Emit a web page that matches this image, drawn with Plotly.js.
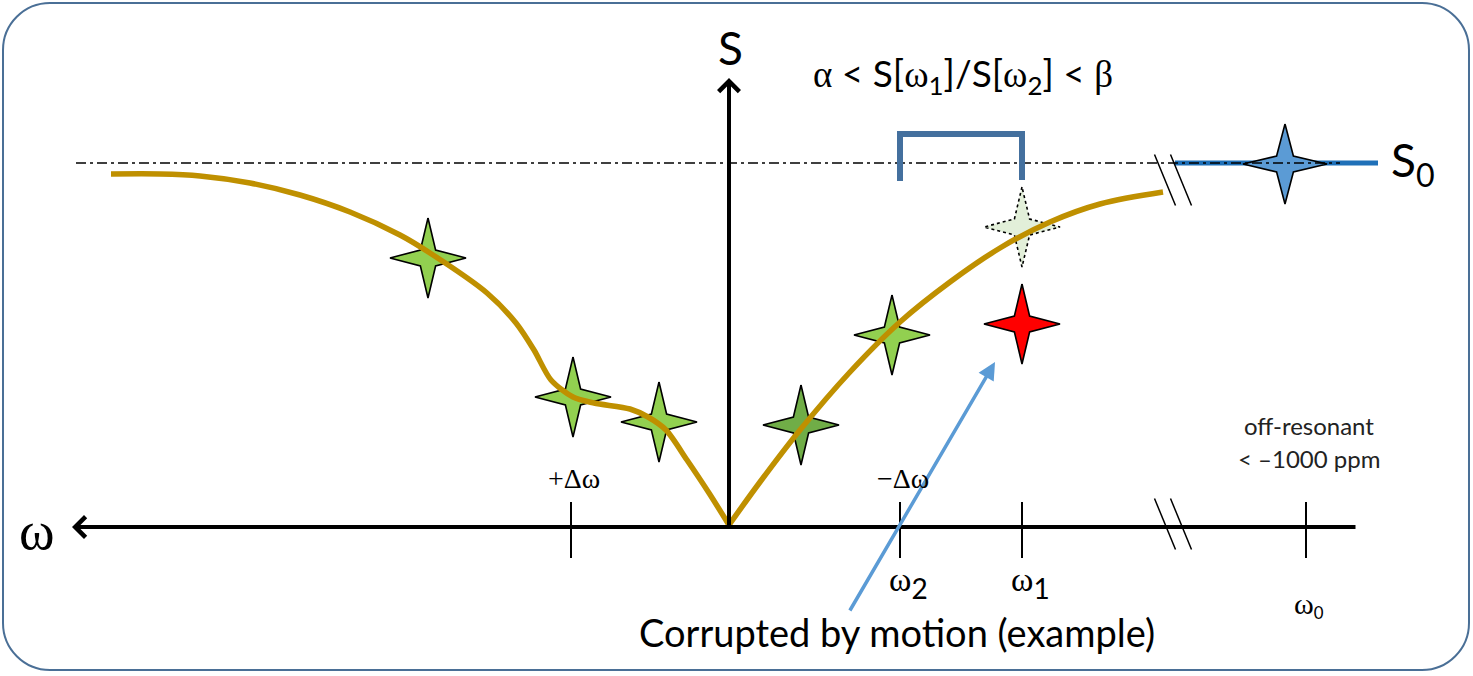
<!DOCTYPE html>
<html>
<head>
<meta charset="utf-8">
<script src="https://cdn.plot.ly/plotly-3.0.1.min.js"></script>
<style>
  html, body { margin: 0; padding: 0; background: #fff; }
  #chart { width: 1473px; height: 676px; }
</style>
</head>
<body>
<div id="chart"></div>
<script>
// Z-spectrum sketch: offset from resonance (positive = left) vs. signal S
let leftOmega  = [618, 569, 529, 479, 429, 379, 329, 299, 242, 213, 195, 178, 156, 135, 99, 81, 63, 42, 20, 0];
let leftSignal = [353, 353, 351, 344, 332, 315, 292, 274, 234, 204, 177, 147, 130, 124, 118, 110, 97, 67, 34, 2];
let rightOmega  = [0, -31, -71, -121, -171, -221, -271, -321, -371, -434];
let rightSignal = [2, 45, 97, 155, 205, 245, 279, 305, 323, 335];

// acquired points (stars)
let starOmega  = [301, 156, 70, -72, -163, -293, -293, -556];
let starSignal = [269, 130, 105, 102, 192, 300, 203, 363];
let starFill   = ['#92d050', '#92d050', '#92d050', '#70ad47', '#92d050', '#e2efd9', '#ff0000', '#5b9bd5'];
let starDash   = ['solid', 'solid', 'solid', 'solid', 'solid', 'dot', 'solid', 'solid'];

// axis ticks
let tickOmega   = [158, -171, -293, -577];
let upperLabels = ['+Δω', '\u2212Δω', '', ''];
let lowerLabels = ['', 'ω|2', 'ω|1', 'ω|0'];

// reference level and off-resonant segment
let s0Level = 364;
let refLineStart = 653, refLineEnd = -611;
let s0Start = -446, s0End = -649;
let breakOmega = -444;

const serif = 'Liberation Serif';
const sans = 'Lato, "Open Sans", sans-serif';

function starShape(cx, cy, rx, ry) {
    const k = 0.2;
    return {
        x: [cx, cx + k * rx, cx + rx, cx + k * rx, cx, cx - k * rx, cx - rx, cx - k * rx, cx],
        y: [cy + ry, cy + k * ry, cy, cy - k * ry, cy - ry, cy - k * ry, cy, cy + k * ry, cy + ry]
    };
}

function greek(s) {
    return `<span style="font-family:${serif}">${s}</span>`;
}

let traces = [];

// S0 level (blue) under the dash-dot line
traces.push({x: [s0Start, s0End], y: [s0Level, s0Level], mode: 'lines',
    line: {color: '#1f70b8', width: 5}});

// stars
starOmega.forEach(function (w, i) {
    let rx = i === starOmega.length - 1 ? 42 : 38;
    let p = starShape(w, starSignal[i], rx, 40);
    traces.push({x: p.x, y: p.y, mode: 'lines', fill: 'toself', fillcolor: starFill[i],
        line: {color: '#000', width: 1.6, dash: starDash[i]}});
});

// dash-dot reference
traces.push({x: [refLineStart, refLineEnd], y: [s0Level, s0Level], mode: 'lines',
    line: {color: '#000', width: 1.5, dash: '10px,4px,3px,4px'}});

// Z-spectrum curve
traces.push({x: leftOmega, y: leftSignal, mode: 'lines', line: {color: '#bf9000', width: 5.5, shape: 'spline', smoothing: 0.8}});
traces.push({x: rightOmega, y: rightSignal, mode: 'lines', line: {color: '#bf9000', width: 5.5, shape: 'spline', smoothing: 1}});

// ticks
let tx = [], ty = [];
tickOmega.forEach(function (t) { tx.push(t, t, null); ty.push(25, -31, null); });
traces.push({x: tx, y: ty, mode: 'lines', line: {color: '#000', width: 2}});

// axis break marks
let bx = [], by = [];
[347, 3].forEach(function (yc) {
    [-8, 8].forEach(function (off) {
        bx.push(breakOmega + off + 10.5, breakOmega + off - 10.5, null);
        by.push(yc + 25.5, yc - 25.5, null);
    });
});
traces.push({x: bx, y: by, mode: 'lines', line: {color: '#000', width: 1.5}});

// ratio bracket between omega2 and omega1
traces.push({x: [tickOmega[1], tickOmega[1], tickOmega[2], tickOmega[2]], y: [346, 393, 393, 347],
    mode: 'lines', line: {color: '#44709e', width: 6}});

function roundedFrame(x0, y0, x1, y1, r) {
    const W = 1473, H = 676, c = 0.448 * r;
    const X = p => (p / W).toFixed(5), Y = p => (1 - p / H).toFixed(5);
    return `M${X(x0 + r)},${Y(y0)} L${X(x1 - r)},${Y(y0)} C${X(x1 - c)},${Y(y0)} ${X(x1)},${Y(y0 + c)} ${X(x1)},${Y(y0 + r)}` +
        ` L${X(x1)},${Y(y1 - r)} C${X(x1)},${Y(y1 - c)} ${X(x1 - c)},${Y(y1)} ${X(x1 - r)},${Y(y1)}` +
        ` L${X(x0 + r)},${Y(y1)} C${X(x0 + c)},${Y(y1)} ${X(x0)},${Y(y1 - c)} ${X(x0)},${Y(y1 - r)}` +
        ` L${X(x0)},${Y(y0 + r)} C${X(x0)},${Y(y0 + c)} ${X(x0 + c)},${Y(y0)} ${X(x0 + r)},${Y(y0)} Z`;
}

let annotations = [
    // omega axis
    {x: 657, y: 0, ax: -628, ay: 0, axref: 'x', ayref: 'y', text: '', showarrow: true,
        arrowhead: 4, arrowsize: 1, arrowwidth: 4, arrowcolor: '#000'},
    // S axis
    {x: 0, y: 449, ax: 0, ay: 0, axref: 'x', ayref: 'y', text: '', showarrow: true,
        arrowhead: 4, arrowsize: 1, arrowwidth: 4, arrowcolor: '#000'},
    // motion arrow
    {x: -266, y: 165, ax: -120, ay: -85, axref: 'x', ayref: 'y', text: '', showarrow: true,
        arrowhead: 2, arrowsize: 1, arrowwidth: 3.5, arrowcolor: '#5b9bd5'},
    {x: 692, y: -4, text: 'ω', showarrow: false, font: {family: serif, size: 54, color: '#000'}},
    {x: -1, y: 480, text: 'S', showarrow: false, font: {family: sans, size: 46, color: '#000'}},
    {x: -660, y: 364, text: 'S<sub>0</sub>', xanchor: 'left', showarrow: false, font: {family: sans, size: 46, color: '#000'}},
    {x: -234, y: 452, showarrow: false, font: {family: sans, size: 37, color: '#000'},
        text: greek('α') + ' &lt; S[' + greek('ω') + '<sub>1</sub>]/S[' + greek('ω') + '<sub>2</sub>] &lt; ' + greek('β')},
    {x: -580, y: 102, text: 'off-resonant', showarrow: false, font: {family: sans, size: 24, color: '#222'}},
    {x: -580, y: 69, text: '&lt; \u20131000 ppm', showarrow: false, font: {family: sans, size: 24, color: '#222'}},
    {x: -168, y: -105, text: 'Corrupted by motion (example)', showarrow: false, font: {family: sans, size: 38, color: '#000'}}
];

tickOmega.forEach(function (t, i) {
    if (upperLabels[i]) {
        annotations.push({x: t - 3, y: 49, text: upperLabels[i], showarrow: false,
            font: {family: serif, size: 28, color: '#000'}});
    }
    if (lowerLabels[i]) {
        let parts = lowerLabels[i].split('|');
        let small = i === 3;
        annotations.push({x: t - (small ? 3 : 8), y: small ? -78 : -56, showarrow: false,
            text: `<span style="font-family:${serif};font-size:${small ? 30 : 34}px">${parts[0]}</span><sub>${parts[1]}</sub>`,
            font: {family: sans, size: small ? 24 : 40, color: '#000'}});
    }
});

let layout = {
    width: 1473, height: 676,
    margin: {l: 0, r: 0, t: 0, b: 0, pad: 0},
    paper_bgcolor: '#fff', plot_bgcolor: '#fff',
    showlegend: false,
    xaxis: {range: [729, -744], visible: false, fixedrange: true},
    yaxis: {range: [-149, 527], visible: false, fixedrange: true},
    shapes: [{type: 'path', xref: 'paper', yref: 'paper', layer: 'below',
        path: roundedFrame(3, 3, 1469, 670, 47), line: {color: '#4a6f96', width: 2}}],
    annotations: annotations
};

Plotly.newPlot('chart', traces, layout, {displayModeBar: false, staticPlot: true});
</script>
</body>
</html>
